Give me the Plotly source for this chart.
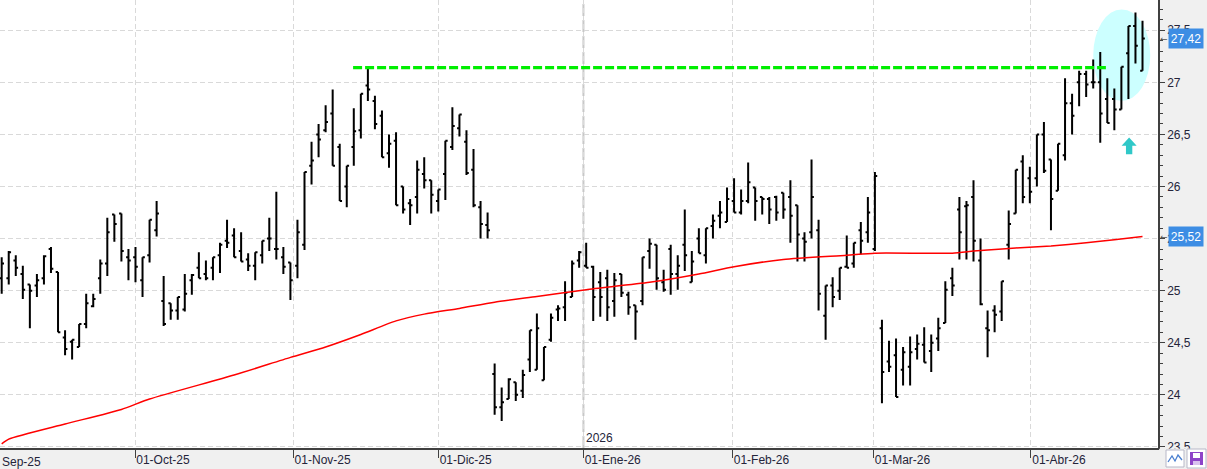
import plotly.graph_objects as go

# ---------------- data ----------------
opens = [25.12, 25.12, 25.29, 25.16, 25.06, 25.05, 25.12, 25.40, 25.18, 24.55,
         24.51, 24.46, 24.68, 24.85, 25.12, 25.26, 25.73, 25.74, 25.32, 25.32,
         25.10, 25.34, 25.58, 24.90, 24.88, 24.81, 24.82, 25.10, 25.22, 25.16,
         25.22, 25.34, 25.48, 25.53, 25.38, 25.30, 25.24, 25.34, 25.50, 25.40,
         25.32, 25.27, 25.24, 25.44, 26.20, 26.50, 26.54, 26.70, 26.38, 26.00,
         26.38, 26.54, 26.97, 26.82, 26.68, 26.32, 26.44, 26.00, 25.84, 25.90,
         26.12, 26.06, 25.86, 26.12, 26.38, 26.56, 26.43, 26.16, 25.80, 25.63,
         24.20, 23.88, 23.96, 24.12, 24.04, 24.34, 24.24, 24.14, 24.53, 24.82,
         24.84, 24.94, 25.29, 25.24, 25.23, 25.08, 25.12, 24.90, 25.16, 24.96,
         24.86, 24.90, 25.38, 25.44, 25.08, 25.40, 25.16, 25.44, 25.08, 25.50,
         25.34, 25.62, 25.72, 25.66, 25.86, 25.75, 25.86, 25.99, 25.90, 25.88,
         25.90, 25.94, 25.90, 25.82, 25.50, 25.56, 25.58, 24.76, 25.05, 25.00,
         25.23, 25.26, 25.58, 25.56, 25.40, 24.64, 24.32, 24.38, 24.24, 24.27,
         24.44, 24.48, 24.42, 24.54, 24.69, 25.12, 25.78, 25.81, 25.90, 25.29,
         24.64, 24.81, 24.80, 25.44, 25.74, 26.24, 26.08, 26.08, 26.50, 26.26,
         25.96, 26.30, 26.80, 27.00, 27.08, 27.00, 27.00, 26.84, 26.84, 26.74,
         27.28, 27.54, 27.11]
highs = [25.32, 25.38, 25.34, 25.24, 25.06, 25.16, 25.34, 25.42, 25.18, 24.62,
         24.53, 24.68, 24.97, 24.97, 25.30, 25.70, 25.73, 25.74, 25.40, 25.42,
         25.32, 25.68, 25.86, 25.14, 24.88, 24.94, 25.16, 25.16, 25.37, 25.29,
         25.32, 25.46, 25.68, 25.60, 25.56, 25.36, 25.37, 25.48, 25.70, 25.95,
         25.42, 25.27, 25.68, 26.14, 26.43, 26.60, 26.78, 26.93, 26.41, 26.20,
         26.75, 26.89, 27.13, 26.87, 26.73, 26.50, 26.52, 26.00, 25.88, 26.25,
         26.28, 26.06, 25.97, 26.44, 26.76, 26.69, 26.54, 26.36, 25.86, 25.75,
         24.30, 24.07, 24.16, 24.12, 24.24, 24.62, 24.78, 24.46, 24.78, 24.86,
         25.09, 25.29, 25.38, 25.46, 25.24, 25.18, 25.20, 25.17, 25.16, 24.99,
         24.86, 25.32, 25.50, 25.44, 25.20, 25.44, 25.34, 25.78, 25.38, 25.60,
         25.60, 25.73, 25.86, 25.99, 26.08, 25.97, 26.23, 25.99, 25.90, 25.90,
         25.91, 25.94, 26.06, 25.82, 25.56, 26.26, 25.68, 25.05, 25.13, 25.22,
         25.53, 25.46, 25.66, 25.90, 26.14, 24.72, 24.52, 24.54, 24.46, 24.56,
         24.58, 24.65, 24.58, 24.74, 25.09, 25.22, 25.90, 25.86, 26.06, 25.50,
         24.81, 24.86, 25.09, 25.77, 26.16, 26.30, 26.19, 26.50, 26.62, 26.26,
         26.41, 27.04, 26.89, 27.11, 27.11, 27.22, 27.29, 27.04, 26.94, 27.15,
         27.54, 27.67, 27.59]
lows = [24.97, 25.06, 25.14, 24.92, 24.64, 24.94, 25.06, 25.17, 24.60, 24.38,
        24.34, 24.46, 24.64, 24.84, 24.97, 25.14, 25.47, 25.28, 25.10, 25.08,
        24.94, 25.27, 25.52, 24.66, 24.72, 24.72, 24.80, 24.96, 25.12, 25.10,
        25.10, 25.17, 25.41, 25.32, 25.28, 25.19, 25.10, 25.26, 25.38, 25.30,
        25.16, 24.91, 25.12, 25.39, 26.02, 26.28, 26.52, 26.20, 25.86, 25.80,
        26.20, 26.46, 26.82, 26.55, 26.28, 26.18, 25.82, 25.74, 25.63, 25.74,
        25.98, 25.74, 25.76, 25.87, 26.35, 26.48, 26.11, 25.80, 25.50, 25.50,
        23.81, 23.75, 23.96, 23.94, 23.97, 24.22, 24.24, 24.14, 24.51, 24.71,
        24.71, 24.94, 25.22, 25.22, 24.71, 24.75, 24.71, 24.75, 24.94, 24.77,
        24.53, 24.86, 25.21, 25.01, 24.99, 24.96, 25.01, 25.19, 25.08, 25.36,
        25.26, 25.50, 25.60, 25.66, 25.75, 25.73, 25.84, 25.67, 25.73, 25.64,
        25.67, 25.69, 25.46, 25.28, 25.28, 25.50, 24.81, 24.53, 24.84, 24.91,
        25.22, 25.22, 25.35, 25.46, 25.38, 23.92, 24.22, 23.98, 24.09, 24.09,
        24.34, 24.31, 24.22, 24.42, 24.69, 24.95, 25.30, 25.30, 25.28, 24.86,
        24.36, 24.60, 24.71, 25.30, 25.74, 25.84, 25.84, 26.00, 26.13, 25.58,
        25.96, 26.25, 26.50, 26.77, 26.86, 26.94, 26.42, 26.61, 26.54, 26.74,
        26.84, 27.18, 27.11]
closes = [25.26, 25.37, 25.22, 25.01, 25.00, 25.10, 25.33, 25.21, 24.60, 24.44,
          24.53, 24.68, 24.88, 24.92, 25.26, 25.56, 25.64, 25.38, 25.29, 25.23,
          25.32, 25.68, 25.74, 24.68, 24.81, 24.94, 24.97, 25.15, 25.12, 25.12,
          25.32, 25.44, 25.46, 25.32, 25.28, 25.24, 25.37, 25.48, 25.50, 25.40,
          25.23, 25.10, 25.56, 26.14, 26.25, 26.45, 26.62, 26.20, 25.86, 26.20,
          26.53, 26.89, 26.93, 26.60, 26.28, 26.41, 25.82, 25.78, 25.82, 26.16,
          26.06, 25.92, 25.97, 26.44, 26.58, 26.69, 26.13, 25.82, 25.64, 25.58,
          23.88, 23.93, 24.15, 24.00, 24.19, 24.62, 24.64, 24.46, 24.74, 24.83,
          24.98, 25.26, 25.37, 25.22, 24.94, 24.94, 24.84, 25.10, 24.98, 24.84,
          24.80, 25.32, 25.45, 25.12, 25.01, 25.16, 25.24, 25.34, 25.28, 25.36,
          25.60, 25.67, 25.75, 25.88, 25.75, 25.86, 26.04, 25.86, 25.88, 25.78,
          25.75, 25.78, 25.72, 25.54, 25.47, 25.90, 24.97, 25.05, 24.94, 25.22,
          25.22, 25.46, 25.48, 25.75, 26.10, 24.22, 24.27, 23.98, 24.41, 24.41,
          24.49, 24.31, 24.50, 24.64, 25.01, 25.05, 25.56, 25.82, 25.48, 24.87,
          24.62, 24.77, 25.09, 25.64, 26.16, 25.90, 25.95, 26.50, 26.15, 25.88,
          26.41, 26.80, 26.68, 27.08, 26.98, 27.00, 26.70, 26.61, 26.74, 27.15,
          27.54, 27.35, 27.42]

# moving average readings (bar index -> value)
ma_idx = [0, 1, 9, 17, 21, 33, 41, 46, 51, 56, 60, 65, 70, 76, 83, 92, 99, 104,
          111, 120, 124, 135, 138, 140, 144, 149, 154, 158, 162]
ma_vals = [23.53, 23.575, 23.72, 23.86, 23.96, 24.19, 24.36, 24.46, 24.58, 24.71,
           24.775, 24.83, 24.89, 24.945, 25.01, 25.08, 25.16, 25.23, 25.30, 25.34,
           25.36, 25.36, 25.38, 25.39, 25.41, 25.43, 25.46, 25.49, 25.52]

# month boundaries (in bar-index units) and their labels
month_idx = [18.93, 41.42, 62.02, 82.61, 103.78, 123.81, 146.16]
month_labels = ["01-Oct-25", "01-Nov-25", "01-Dic-25", "01-Ene-26",
                "01-Feb-26", "01-Mar-26", "01-Abr-26"]
first_label = "Sep-25"
year_idx = 82.61
year_label = "2026"

# resistance line
resistance = 27.14
res_start, res_end = 49.9, 156.8

# highlighted zone (ellipse) and arrow
zone_x = [155.0, 163.1]
zone_y = [26.82, 27.70]
arrow_x, arrow_y = 160.1, 26.39

last_close = 27.42
last_ma = 25.52

y_range = [23.49, 27.79]
x_range = [-0.24, 164.2]

FONT = "Liberation Sans, Arial, sans-serif"
TXT = "#24243a"

x_bars = list(range(len(opens)))

fig = go.Figure()

# resistance (green dashed)
fig.add_trace(go.Scatter(
    x=[res_start, res_end], y=[resistance, resistance], mode="lines",
    line=dict(color="#00ee00", width=3.2, dash="9px,3px"),
    hoverinfo="skip", showlegend=False))

# moving average
fig.add_trace(go.Scatter(
    x=ma_idx, y=ma_vals, mode="lines", line_shape="spline",
    line=dict(color="#ff0000", width=1.5, smoothing=0.6),
    hoverinfo="skip", showlegend=False))

# OHLC bars
fig.add_trace(go.Ohlc(
    x=x_bars, open=opens, high=highs, low=lows, close=closes,
    increasing=dict(line=dict(color="black", width=2)),
    decreasing=dict(line=dict(color="black", width=2)),
    tickwidth=0.33, showlegend=False))

shapes = []
# highlighted ellipse
shapes.append(dict(type="circle", xref="x", yref="y",
                   x0=zone_x[0], x1=zone_x[1], y0=zone_y[0], y1=zone_y[1],
                   fillcolor="#ccffff", line=dict(width=0), layer="between"))
# year separator
shapes.append(dict(type="line", xref="x", yref="paper",
                   x0=year_idx, x1=year_idx, y0=0, y1=1,
                   line=dict(color="#c8c8c8", width=2, dash="12px,4px"),
                   layer="between"))
# up arrow
hw, sw = 1.07, 0.45
y_top, y_mid, y_bot = arrow_y + 0.08, arrow_y, arrow_y - 0.08
arrow_path = (f"M {arrow_x} {y_top} L {arrow_x + hw} {y_mid} L {arrow_x + sw} {y_mid} "
              f"L {arrow_x + sw} {y_bot} L {arrow_x - sw} {y_bot} L {arrow_x - sw} {y_mid} "
              f"L {arrow_x - hw} {y_mid} Z")
shapes.append(dict(type="path", xref="x", yref="y", path=arrow_path,
                   fillcolor="#30c8c8", line=dict(width=0), layer="above"))
# hide the lower half of the bottom axis label (clipped in the original)
shapes.append(dict(type="rect", xref="paper", yref="paper",
                   x0=1.001, x1=1.06, y0=-0.06, y1=-0.0015,
                   fillcolor="#f0f0f0", line=dict(width=0), layer="above"))
# bottom-right toolbar icons
W, H = 1158.0, 448.0
def px(xp):
    return xp / W
def py(yp):
    return (H - yp) / H
shapes.append(dict(type="rect", xref="paper", yref="paper",
                   x0=px(1166), x1=px(1184), y0=py(467), y1=py(450),
                   fillcolor="white", line=dict(color="#b8b8c8", width=1), layer="above"))
shapes.append(dict(type="path", xref="paper", yref="paper",
                   path=(f"M {px(1168)} {py(462)} L {px(1172)} {py(456)} L {px(1175)} {py(461)} "
                         f"L {px(1178)} {py(455)} L {px(1182)} {py(460)}"),
                   line=dict(color="#4a7fd0", width=1.3), layer="above"))
shapes.append(dict(type="rect", xref="paper", yref="paper",
                   x0=px(1187), x1=px(1206), y0=py(468), y1=py(449),
                   fillcolor="white", line=dict(color="#b8b8c8", width=1), layer="above"))
shapes.append(dict(type="rect", xref="paper", yref="paper",
                   x0=px(1190), x1=px(1203), y0=py(465), y1=py(452),
                   fillcolor="#8e44c8", line=dict(width=0), layer="above"))
shapes.append(dict(type="rect", xref="paper", yref="paper",
                   x0=px(1193), x1=px(1200), y0=py(458), y1=py(453),
                   fillcolor="white", line=dict(width=0), layer="above"))
shapes.append(dict(type="rect", xref="paper", yref="paper",
                   x0=px(1193), x1=px(1200), y0=py(465), y1=py(461),
                   fillcolor="#d9c2ef", line=dict(width=0), layer="above"))

annotations = []
for val in (last_close, last_ma):
    annotations.append(dict(
        x=1, xref="paper", y=val, yref="y", xanchor="left", yanchor="middle",
        xshift=10, text=f"{val:.2f}".replace(".", ","), showarrow=False,
        font=dict(family=FONT, size=12, color="white"),
        bgcolor="#3d8de4", borderpad=2, width=30, height=15))
    annotations.append(dict(
        x=1, xref="paper", y=val, yref="y", xanchor="left", yanchor="middle",
        xshift=0, text="←", showarrow=False,
        font=dict(family="DejaVu Sans", size=9, color="#505050")))
annotations.append(dict(
    x=year_idx, xref="x", y=0, yref="paper", xanchor="left", yanchor="bottom",
    xshift=1, yshift=1, text=year_label, showarrow=False,
    font=dict(family=FONT, size=12, color=TXT)))
annotations.append(dict(
    x=0, xref="paper", y=0, yref="paper", xanchor="left", yanchor="top",
    yshift=-5, text=first_label, showarrow=False,
    font=dict(family=FONT, size=12, color=TXT)))

fig.update_layout(
    width=1207, height=469,
    margin=dict(l=0, r=49, t=0, b=21),
    paper_bgcolor="#f0f0f0", plot_bgcolor="white",
    separators=",.",
    showlegend=False,
    font=dict(family=FONT, size=12, color=TXT),
    shapes=shapes, annotations=annotations,
    xaxis=dict(
        range=x_range, type="linear", rangeslider=dict(visible=False),
        tickmode="array", tickvals=month_idx, ticktext=month_labels,
        ticks="outside", ticklen=8, tickcolor="#404040", tickwidth=1,
        ticklabelposition="outside right",
        showline=True, linecolor="#404040", linewidth=1.5,
        showgrid=True, gridcolor="#d9d9d9", griddash="5px,3px", gridwidth=1,
        zeroline=False, fixedrange=True,
        tickfont=dict(family=FONT, size=12, color=TXT)),
    yaxis=dict(
        range=y_range, side="right", tick0=23.5, dtick=0.5,
        ticks="outside", ticklen=5, tickcolor="#404040", tickwidth=1,
        minor=dict(dtick=0.1, ticks="outside", ticklen=3, tickcolor="#404040",
                   showgrid=False),
        showline=True, linecolor="#404040", linewidth=1.5,
        showgrid=True, gridcolor="#d9d9d9", griddash="5px,3px", gridwidth=1,
        zeroline=False, fixedrange=True,
        tickfont=dict(family=FONT, size=12, color=TXT)),
)

fig.write_html("out.html")
